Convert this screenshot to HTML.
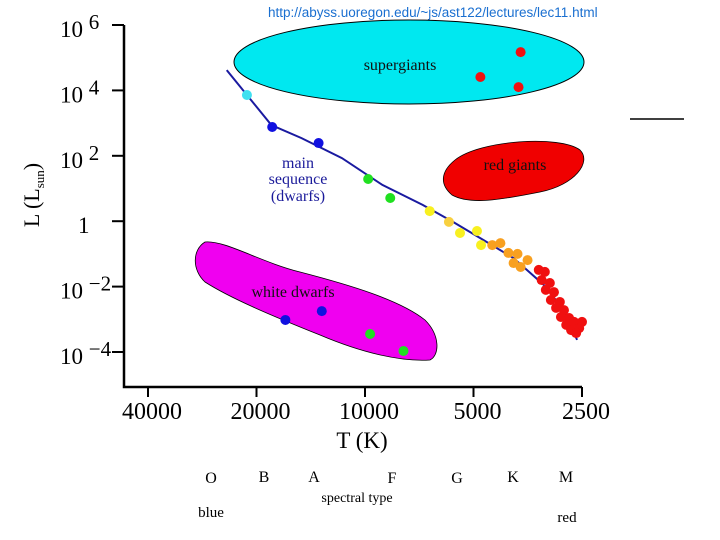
<!DOCTYPE html>
<html><head><meta charset="utf-8"><style>
html,body{margin:0;padding:0;background:#fff;}
svg{display:block;font-family:"Liberation Serif",serif;}
</style></head><body>
<svg id="chart" width="720" height="540" viewBox="0 0 720 540">
<text x="268" y="17" font-family="Liberation Sans, sans-serif" font-size="13.5" fill="#1a6fd0">http://abyss.uoregon.edu/~js/ast122/lectures/lec11.html</text>
<line x1="630" y1="119" x2="684" y2="119" stroke="#000" stroke-width="1.5"/>
<ellipse cx="409" cy="62" rx="175" ry="42" fill="#00e8f0" stroke="#000" stroke-width="1"/>
<text x="400" y="70" text-anchor="middle" font-size="16" fill="#111">supergiants</text>
<path d="M455,160 C480,140 560,135 580,150 C592,162 575,185 540,192 C500,200 470,205 452,195 C440,185 440,172 455,160 Z" fill="#f00000" stroke="#000" stroke-width="0.8"/>
<text x="515" y="170" text-anchor="middle" font-size="16" fill="#111">red giants</text>
<path d="M205,242 C225,240 260,262 300,272 C350,285 400,300 425,320 C440,335 440,355 430,360 C400,362 360,352 320,335 C270,315 230,298 205,282 C192,270 192,250 205,242 Z" fill="#f000f0" stroke="#000" stroke-width="0.8"/>
<text x="293" y="297" text-anchor="middle" font-size="16" fill="#111">white dwarfs</text>
<text x="298" y="168" text-anchor="middle" font-size="16" fill="#1a1a9a">main</text>
<text x="298" y="184" text-anchor="middle" font-size="16" fill="#1a1a9a">sequence</text>
<text x="298" y="201" text-anchor="middle" font-size="16" fill="#1a1a9a">(dwarfs)</text>
<g id="axes"></g>
<g id="marks"></g>
<text x="362" y="448" text-anchor="middle" font-size="23">T (K)</text>
<text transform="translate(39,195) rotate(-90)" text-anchor="middle" font-size="22">L (L<tspan font-size="13" dy="5">sun</tspan><tspan dy="-5">)</tspan></text>
<g font-size="16">
<text x="211" y="483" text-anchor="middle">O</text><text x="264" y="482" text-anchor="middle">B</text><text x="314" y="482" text-anchor="middle">A</text><text x="392" y="483" text-anchor="middle">F</text><text x="457" y="483" text-anchor="middle">G</text><text x="513" y="482" text-anchor="middle">K</text><text x="566" y="482" text-anchor="middle">M</text>
<text x="357" y="502" text-anchor="middle" font-size="14">spectral type</text>
<text x="211" y="517" text-anchor="middle" font-size="15">blue</text>
<text x="567" y="522" text-anchor="middle" font-size="15">red</text>
</g>
</svg>
<script>
const xTicks = [40000, 20000, 10000, 5000, 2500];
const xTickLabels = ["40000", "20000", "10000", "5000", "2500"];
const yTicks = [6, 4, 2, 0, -2, -4];
const yTickLabels = ["10|6", "10|4", "10|2", "1", "10|−2", "10|−4"];
const msLineT = [24190, 18190, 15000, 11590, 8950, 6920, 5700, 4700, 3870, 3190, 2805, 2580];
const msLineLogL = [4.62, 2.94, 2.54, 1.93, 1.11, 0.50, -0.02, -0.57, -1.13, -1.95, -2.72, -3.63];
const starT = [21260, 18090, 13450, 9800, 8510, 6615, 5850, 5450, 4890, 4765, 4435, 4210, 4000, 3775, 3870, 3540, 3700,
 3295, 3170, 3235, 3070, 3150, 2990, 3050, 2880, 2950, 2805, 2860, 2715, 2765, 2630, 2680, 2545, 2500, 2595,
 16630, 13180, 9680, 7820, 3700, 4785, 3750];
const starLogL = [3.86, 2.88, 2.39, 1.29, 0.71, 0.31, -0.02, -0.36, -0.30, -0.73, -0.73, -0.67, -0.97, -1.0, -1.28, -1.19, -1.40,
 -1.49, -1.55, -1.80, -1.89, -2.10, -2.17, -2.41, -2.47, -2.65, -2.72, -2.93, -2.96, -3.17, -3.08, -3.33, -3.27, -3.08, -3.42,
 -3.02, -2.75, -3.45, -3.97, 5.17, 4.41, 4.10];
const starColor = ["#40e0f0", "#1010e0", "#1010e0", "#20e020", "#20e020", "#f8f020", "#f8d040", "#f8f020", "#f8f020", "#f8f020",
 "#f8a020", "#f8a020", "#f8a020", "#f8a020", "#f8a020", "#f8a020", "#f8a020",
 "#f01010", "#f01010", "#f01010", "#f01010", "#f01010", "#f01010", "#f01010", "#f01010", "#f01010", "#f01010", "#f01010", "#f01010", "#f01010", "#f01010", "#f01010", "#f01010", "#f01010", "#f01010",
 "#1010e0", "#1010e0", "#20e020", "#20e020", "#f01010", "#f01010", "#f01010"];

const NS = "http://www.w3.org/2000/svg";
const x = T => 148 + (Math.log10(40000) - Math.log10(T)) / Math.log10(16) * 434;
const y = l => 25 + (6 - l) * 32.7;
function mk(tag, attrs, parent) { const e = document.createElementNS(NS, tag); for (const k in attrs) e.setAttribute(k, attrs[k]); parent.appendChild(e); return e; }
const ax = document.getElementById('axes'), mg = document.getElementById('marks');
let a = mk('path', {d: 'M124,25 V387 H582', fill: 'none', stroke: '#000', 'stroke-width': 2.5}, ax);


xTicks.forEach((t, i) => {
  const px = x(t);
  const tk = mk('line', {x1: px, x2: px, y1: 387, y2: 397, stroke: '#000', 'stroke-width': 2}, ax);
  
  
  const lb = mk('text', {x: px + 4, y: 419, 'text-anchor': 'middle', 'font-size': 24}, ax);
  lb.textContent = xTickLabels[i];
  
  
});
yTicks.forEach((t, i) => {
  const py = y(t);
  const tk = mk('line', {x1: 112, x2: 124, y1: py, y2: py, stroke: '#000', 'stroke-width': 2}, ax);
  
  
  const parts = yTickLabels[i].split('|');
  const lb = mk('text', {x: parts.length > 1 ? 60 : 78, y: py + 12, 'font-size': 23}, ax);
  
  
  if (parts.length > 1) {
    lb.appendChild(document.createTextNode(parts[0] + ' '));
    const s = mk('tspan', {dy: -8, 'font-size': 21}, lb); s.textContent = parts[1];
  } else lb.textContent = parts[0];
});
const ln = mk('polyline', {points: msLineT.map((t, i) => x(t) + ',' + y(msLineLogL[i])).join(' '), fill: 'none', stroke: '#1a1aa0', 'stroke-width': 2}, mg);


starT.forEach((t, i) => {
  const c = mk('circle', {cx: x(t), cy: y(starLogL[i]), r: 5, fill: starColor[i]}, mg);
  
  
});
</script>
</body></html>
